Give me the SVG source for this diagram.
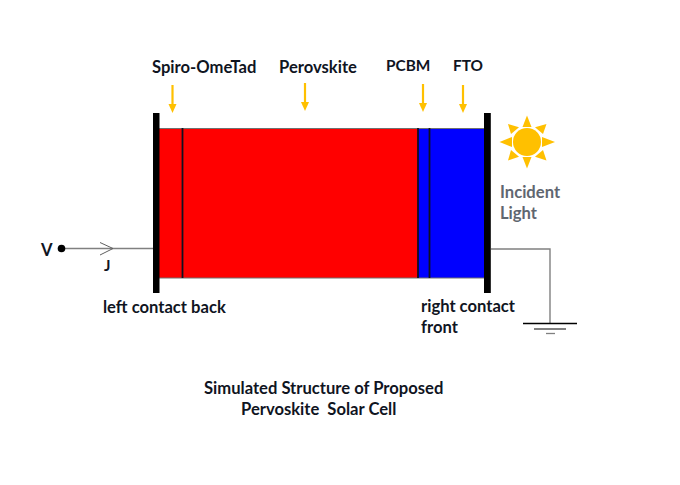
<svg xmlns="http://www.w3.org/2000/svg" width="680" height="485" viewBox="0 0 680 485">
<style>
text{font-family:"Lato","Carlito","Liberation Sans",sans-serif;font-weight:700;font-size:16.600px;fill:#10151f;white-space:pre}
.wire{fill:none;stroke:#808080;stroke-width:1.4}
.div{stroke:#101020;stroke-width:1.800}
.bar{fill:#000}
.down{fill:none;stroke:#ffc000;stroke-width:2.2}
.tip{fill:#ffc000}
.sun{fill:#ffc000}
.g{stroke-width:1.3}
.caps{font-size:15.400px}
.muted{fill:#5f6670}
</style>
<defs>
<g id="arrowDown"><line class="down" x1="0" y1="0" x2="0" y2="20"/><polygon class="tip" points="-4,19 4,19 0,28"/></g>
</defs>
<rect width="680" height="485" fill="#fff"/>
<g id="connectors">
<path class="wire" d="M61 248.500H153"/>
<path d="M100 242.500L113 248.500L100 255" fill="none" stroke="#606060" stroke-width="1"/>
<path class="wire" d="M491 249H550V323"/>
</g>
<g id="cell">
<rect x="159" y="128" width="259" height="150" fill="#ff0000"/>
<rect x="418" y="128" width="66" height="150" fill="#0000ff"/>
<path d="M159 128.500H484M159 278H484" stroke="#707070" stroke-width="1.200" fill="none"/>
<line class="div" x1="182.500" y1="128" x2="182.500" y2="278"/>
<line class="div" x1="418" y1="128" x2="418" y2="278"/>
<line class="div" x1="429.500" y1="128" x2="429.500" y2="278"/>
</g>
<g id="left-contact"><rect class="bar" x="153" y="113" width="6.500" height="180"/>
<text x="103" y="313">left contact back</text></g>
<g id="right-contact"><rect class="bar" x="484" y="113" width="6.800" height="180"/>
<text x="421" y="311.500">right contact</text><text x="421" y="332.500">front</text></g>
<g id="spiro"><text x="152" y="72.500">Spiro-OmeTad</text><use href="#arrowDown" x="172.500" y="85"/></g>
<g id="perovskite"><text x="279" y="72.500">Perovskite</text><use href="#arrowDown" x="305" y="83"/></g>
<g id="pcbm"><text class="caps" x="386" y="70.500">PCBM</text><use href="#arrowDown" x="423" y="84"/></g>
<g id="fto"><text class="caps" x="453" y="70.500">FTO</text><use href="#arrowDown" x="463" y="85"/></g>
<g id="sun">
<circle class="sun" cx="527" cy="142" r="14"/>
<polygon class="sun" points="522.500,127 531.500,127 527,115.500"/>
<polygon class="sun" points="522.500,157 531.500,157 527,168.500"/>
<polygon class="sun" points="512,137 512,147 499.500,142"/>
<polygon class="sun" points="542,137 542,147 555,142"/>
<polygon class="sun" points="511,134 519,127.300 508,124"/>
<polygon class="sun" points="543,134 535,127.300 546.500,124"/>
<polygon class="sun" points="511,150 519,156.700 508,160.500"/>
<polygon class="sun" points="543,150 535,156.700 546.500,160.500"/>
</g>
<g id="incident-light"><text class="muted" x="500" y="197.500">Incident</text><text class="muted" x="500" y="218.500">Light</text></g>
<g id="v-node"><text x="41" y="255.500">V</text><circle cx="61.500" cy="248.500" r="3.800" fill="#000"/></g>
<g id="j-label"><text x="104" y="271" style="font-size:15px">J</text></g>
<g id="ground">
<line class="g" x1="523" y1="323.500" x2="577" y2="323.500" stroke="#000"/>
<line class="g" x1="534" y1="329" x2="566" y2="329" stroke="#606060" style="stroke-width:1.600"/>
<line class="g" x1="546" y1="333.500" x2="555" y2="333.500" stroke="#808080"/>
</g>
<g id="caption"><text x="204" y="393.500">Simulated Structure of Proposed</text><text x="241" y="414.500">Pervoskite  Solar Cell</text></g>
</svg>
